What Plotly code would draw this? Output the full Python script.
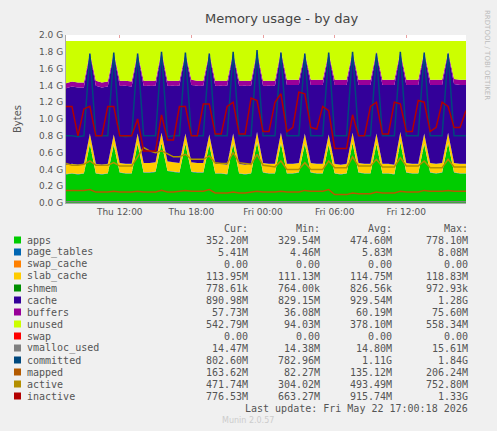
import pandas as pd
import plotly.graph_objects as go

# 30 minute samples, Thu 07:30 .. Fri 17:00
times = pd.date_range("2026-05-21 07:30", periods=68, freq="30min")

apps = [0.34, 0.35, 0.34, 0.35, 0.70, 0.35, 0.34, 0.35, 0.69, 0.36, 0.35, 0.35,
        0.70, 0.36, 0.36, 0.37, 0.71, 0.38, 0.37, 0.36, 0.70, 0.37, 0.36, 0.36,
        0.69, 0.35, 0.35, 0.34, 0.70, 0.35, 0.34, 0.35, 0.72, 0.36, 0.35, 0.35,
        0.71, 0.35, 0.35, 0.36, 0.70, 0.36, 0.35, 0.35, 0.69, 0.35, 0.34, 0.35,
        0.71, 0.36, 0.35, 0.35, 0.70, 0.35, 0.35, 0.34, 0.72, 0.36, 0.35, 0.35,
        0.70, 0.36, 0.35, 0.36, 0.71, 0.36, 0.35, 0.35]
slab_cache = [0.11, 0.11, 0.11, 0.11, 0.12, 0.11, 0.11, 0.11, 0.12, 0.11, 0.11, 0.11,
              0.12, 0.11, 0.11, 0.11, 0.12, 0.11, 0.11, 0.11, 0.12, 0.11, 0.11, 0.11,
              0.12, 0.11, 0.11, 0.11, 0.12, 0.11, 0.11, 0.11, 0.12, 0.11, 0.11, 0.11,
              0.12, 0.11, 0.11, 0.11, 0.12, 0.11, 0.11, 0.11, 0.12, 0.11, 0.11, 0.11,
              0.12, 0.11, 0.11, 0.11, 0.12, 0.11, 0.11, 0.11, 0.12, 0.11, 0.11, 0.11,
              0.12, 0.11, 0.11, 0.11, 0.12, 0.11, 0.11, 0.11]
page_tables = [0.005] * 68
shmem = [0.001] * 68
cache = [0.91, 0.92, 0.92, 0.91, 0.95, 0.93, 0.92, 0.92, 0.96, 0.92, 0.93, 0.92,
         0.95, 0.92, 0.92, 0.91, 0.96, 0.90, 0.91, 0.92, 0.95, 0.92, 0.92, 0.92,
         0.96, 0.93, 0.93, 0.94, 0.95, 0.93, 0.94, 0.93, 0.94, 0.92, 0.93, 0.93,
         0.96, 0.94, 0.94, 0.93, 0.95, 0.93, 0.94, 0.94, 0.96, 0.94, 0.95, 0.94,
         0.95, 0.93, 0.94, 0.94, 0.96, 0.94, 0.94, 0.95, 0.94, 0.93, 0.94, 0.94,
         0.96, 0.93, 0.94, 0.93, 0.95, 0.94, 0.94, 0.94]
buffers = [0.06, 0.06, 0.06, 0.06, 0.02, 0.06, 0.06, 0.06, 0.02, 0.06, 0.06, 0.06,
           0.02, 0.06, 0.06, 0.06, 0.02, 0.06, 0.06, 0.06, 0.02, 0.06, 0.06, 0.06,
           0.02, 0.06, 0.06, 0.06, 0.02, 0.06, 0.06, 0.06, 0.02, 0.06, 0.06, 0.06,
           0.02, 0.06, 0.06, 0.06, 0.02, 0.06, 0.06, 0.06, 0.02, 0.06, 0.06, 0.06,
           0.02, 0.06, 0.06, 0.06, 0.02, 0.06, 0.06, 0.06, 0.02, 0.06, 0.06, 0.06,
           0.02, 0.06, 0.06, 0.06, 0.02, 0.06, 0.06, 0.06]
total_mem = 1.93
unused = [total_mem - a - s - p - sh - c - b for a, s, p, sh, c, b
          in zip(apps, slab_cache, page_tables, shmem, cache, buffers)]

committed = [0.80, 0.80, 0.79, 0.80, 1.78, 0.80, 0.80, 0.80, 1.79, 0.80, 0.79, 0.80,
             1.78, 0.80, 0.80, 0.80, 1.80, 0.79, 0.80, 0.80, 1.79, 0.80, 0.80, 0.80,
             1.78, 0.80, 0.80, 0.80, 1.80, 0.80, 0.80, 0.80, 1.82, 0.80, 0.80, 0.80,
             1.79, 0.80, 0.80, 0.80, 1.78, 0.80, 0.80, 0.80, 1.79, 0.80, 0.80, 0.80,
             1.80, 0.80, 0.80, 0.80, 1.78, 0.80, 0.80, 0.80, 1.80, 0.80, 0.80, 0.80,
             1.79, 0.80, 0.80, 0.80, 1.78, 0.80, 0.80, 0.80]
inactive = [1.15, 1.15, 0.80, 1.12, 1.15, 0.80, 0.80, 1.15, 1.15, 0.80, 0.80, 0.80,
            1.00, 0.62, 0.62, 0.62, 1.05, 0.75, 0.75, 1.15, 1.15, 0.80, 0.80, 1.18,
            1.18, 0.82, 0.82, 1.15, 1.20, 0.82, 0.82, 1.25, 1.22, 0.85, 0.85, 1.20,
            1.30, 0.85, 0.90, 1.32, 1.30, 0.90, 0.88, 1.15, 1.10, 0.65, 0.65, 0.65,
            1.05, 0.80, 0.80, 1.15, 1.20, 0.82, 0.82, 1.20, 1.18, 0.85, 0.85, 1.22,
            1.20, 0.85, 0.90, 1.20, 1.15, 0.90, 0.90, 1.10]
active = [0.47, 0.45, 0.45, 0.46, 0.50, 0.45, 0.45, 0.45, 0.48, 0.44, 0.44, 0.44,
          0.55, 0.66, 0.62, 0.60, 0.62, 0.58, 0.55, 0.55, 0.58, 0.52, 0.52, 0.52,
          0.56, 0.48, 0.47, 0.47, 0.60, 0.48, 0.47, 0.46, 0.58, 0.45, 0.44, 0.43,
          0.50, 0.40, 0.40, 0.40, 0.48, 0.40, 0.40, 0.40, 0.50, 0.42, 0.42, 0.42,
          0.55, 0.44, 0.44, 0.44, 0.52, 0.43, 0.43, 0.43, 0.54, 0.44, 0.44, 0.44,
          0.50, 0.42, 0.42, 0.42, 0.52, 0.43, 0.43, 0.43]
mapped = [0.15, 0.15, 0.15, 0.15, 0.16, 0.13, 0.13, 0.13, 0.14, 0.13, 0.13, 0.13,
          0.14, 0.13, 0.13, 0.13, 0.15, 0.13, 0.13, 0.14, 0.15, 0.14, 0.14, 0.14,
          0.16, 0.12, 0.12, 0.12, 0.13, 0.12, 0.12, 0.13, 0.14, 0.13, 0.13, 0.13,
          0.14, 0.13, 0.13, 0.13, 0.15, 0.14, 0.14, 0.14, 0.16, 0.10, 0.10, 0.10,
          0.12, 0.11, 0.11, 0.11, 0.13, 0.12, 0.12, 0.12, 0.14, 0.13, 0.13, 0.13,
          0.15, 0.14, 0.14, 0.14, 0.15, 0.14, 0.14, 0.14]
vmalloc_used = [0.015] * 68

legend_names = ["apps", "page_tables", "swap_cache", "slab_cache", "shmem", "cache",
                "buffers", "unused", "swap", "vmalloc_used", "committed", "mapped",
                "active", "inactive"]
legend_colors = ["#00CC00", "#0066B3", "#FF8000", "#FFCC00", "#008F00", "#330099",
                 "#990099", "#CCFF00", "#FF0000", "#808080", "#00487D", "#B35A00",
                 "#B38F00", "#B30000"]
cur_vals = ["352.20M", "5.41M", "0.00", "113.95M", "778.61k", "890.98M", "57.73M",
            "542.79M", "0.00", "14.47M", "802.60M", "163.62M", "471.74M", "776.53M"]
min_vals = ["329.54M", "4.46M", "0.00", "111.13M", "764.00k", "829.15M", "36.08M",
            "94.03M", "0.00", "14.38M", "782.96M", "82.27M", "304.02M", "663.27M"]
avg_vals = ["474.60M", "5.83M", "0.00", "114.75M", "826.56k", "929.54M", "60.19M",
            "378.10M", "0.00", "14.80M", "1.11G", "135.12M", "493.49M", "915.74M"]
max_vals = ["778.10M", "8.08M", "0.00", "118.83M", "972.93k", "1.28G", "75.60M",
            "558.34M", "0.00", "15.61M", "1.84G", "206.24M", "752.80M", "1.33G"]

tick_times = ["2026-05-21 12:00", "2026-05-21 18:00", "2026-05-22 00:00",
              "2026-05-22 06:00", "2026-05-22 12:00"]
tick_labels = ["Thu 12:00", "Thu 18:00", "Fri 00:00", "Fri 06:00", "Fri 12:00"]

fig = go.Figure()

stack = [("apps", apps, "#00CC00"), ("page_tables", page_tables, "#0066B3"),
         ("slab_cache", slab_cache, "#FFCC00"), ("shmem", shmem, "#008F00"),
         ("cache", cache, "#330099"), ("buffers", buffers, "#990099"),
         ("unused", unused, "#CCFF00")]
for name, vals, col in stack:
    fig.add_trace(go.Scatter(x=times, y=vals, name=name, stackgroup="mem",
                             mode="lines", line=dict(width=0),
                             fillcolor=col, hoverinfo="skip"))

lines = [("vmalloc_used", vmalloc_used, "#808080"), ("committed", committed, "#00487D"),
         ("mapped", mapped, "#B35A00"), ("active", active, "#B38F00"),
         ("inactive", inactive, "#B30000")]
for name, vals, col in lines:
    fig.add_trace(go.Scatter(x=times, y=vals, name=name, mode="lines",
                             line=dict(color=col, width=1.5)))

mono = dict(family="DejaVu Sans Mono", size=10, color="#555555")


def px_x(px):
    return (px - 66) / 400


def px_y(py):
    return (203 - py) / 168


def label(text, px, py, anchor="left", font=mono, **kw):
    return dict(text=text, x=px_x(px), y=px_y(py), xref="paper", yref="paper",
                xanchor=anchor, yanchor="middle", showarrow=False, font=font, **kw)


annots = [label("Memory usage - by day", 281, 19, "center",
                dict(family="DejaVu Sans", size=13, color="#444444")),
          label("RRDTOOL / TOBI OETIKER", 487, 55, "center",
                dict(family="DejaVu Sans", size=7, color="#bbbbbb"), textangle=90)]
for txt, px in [("Cur:", 250), ("Min:", 322), ("Avg:", 394), ("Max:", 470)]:
    annots.append(label(txt, px, 228, "right"))
shapes = []
for i, name in enumerate(legend_names):
    py = 240 + i * 12
    shapes.append(dict(type="rect", xref="paper", yref="paper",
                       x0=px_x(14), x1=px_x(21), y0=px_y(py + 3.5), y1=px_y(py - 3.5),
                       fillcolor=legend_colors[i], line=dict(width=0)))
    annots.append(label(name, 25, py))
    for vals, px in [(cur_vals, 250), (min_vals, 322), (avg_vals, 394), (max_vals, 470)]:
        annots.append(label(vals[i], px, py, "right"))
annots.append(label("Last update: Fri May 22 17:00:18 2026", 470, 408, "right"))
annots.append(label("Munin 2.0.57", 248, 420, "center",
                    dict(family="DejaVu Sans", size=8, color="#cccccc")))

fig.update_layout(
    width=497, height=431,
    margin=dict(l=66, r=31, t=35, b=228, autoexpand=False),
    paper_bgcolor="#F0F0F0", plot_bgcolor="#FFFFFF", showlegend=False,
    annotations=annots, shapes=shapes,
    font=dict(family="DejaVu Sans", size=10, color="#555555"),
)
fig.update_xaxes(range=[times[0], times[-1]], tickvals=tick_times, ticktext=tick_labels,
                 showgrid=True, gridcolor="#E8A0A0", griddash="dot", gridwidth=1,
                 ticks="", showline=True, linecolor="#aaaaaa", tickfont=dict(size=9))
fig.update_yaxes(range=[0, 2.0], dtick=0.2, tickformat=".1f", ticksuffix=" G",
                 showgrid=True, gridcolor="#E8A0A0", griddash="dot", gridwidth=1,
                 zeroline=False, showline=True, linecolor="#aaaaaa",
                 title=dict(text="Bytes", font=dict(size=10)), tickfont=dict(size=9))

fig.write_html("out.html", config={"displayModeBar": False},
               post_script="document.body.style.margin='0';")
